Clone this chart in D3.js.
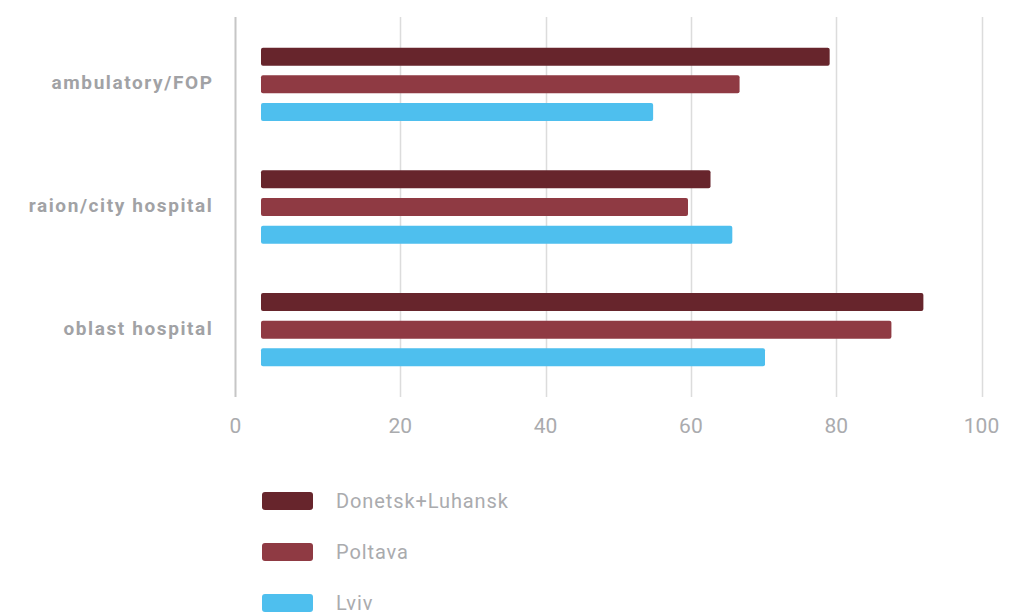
<!DOCTYPE html>
<html>
<head>
<meta charset="utf-8">
<script src="https://cdn.jsdelivr.net/npm/d3@7/dist/d3.min.js"></script>
<style>
  html, body { margin: 0; padding: 0; background: #ffffff; }
  svg { display: block; }
</style>
</head>
<body>
<svg id="chart" width="1014" height="615"></svg>
<script>
// Share of respondents by facility level and region (%)
const categories = ["ambulatory/FOP", "raion/city hospital", "oblast hospital"];
const seriesNames = ["Donetsk+Luhansk", "Poltava", "Lviv"];
const donetskLuhansk = [79.1, 62.7, 92.0];
const poltava = [66.7, 59.6, 87.6];
const lviv = [54.8, 65.7, 70.2];
const tickValues = [0, 20, 40, 60, 80, 100];
const colors = ["#67252c", "#8f3a43", "#4ebfee"];

const seriesValues = [donetskLuhansk, poltava, lviv];
const rows = categories.map((c, i) => ({
  category: c,
  values: seriesNames.map((s, j) => ({ series: s, value: seriesValues[j][i] }))
}));

const svg = d3.select("#chart");
const textGray = "#a1a2a5";

const x = d3.scaleLinear().domain([0, 100]).range([255, 981.5]);
const y = d3.scaleBand().domain(categories).range([23, 391]).paddingInner(0).paddingOuter(0);
const inner = d3.scaleBand().domain(seriesNames).range([-36.7, 36.7]).paddingInner(0.35);

const gridTop = 17, gridBottom = 397;
const axisLineX = 235.5;   // left axis rule, carries the 0 label
const barInset = 6;        // bars start just right of the scale origin

// vertical gridlines
svg.append("g")
  .selectAll("line")
  .data(tickValues.filter(d => d > 0))
  .join("line")
  .attr("x1", d => Math.round(x(d)) + 0.5)
  .attr("x2", d => Math.round(x(d)) + 0.5)
  .attr("y1", gridTop).attr("y2", gridBottom)
  .attr("stroke", "#dcdcdc").attr("stroke-width", 1.5);

svg.append("line")
  .attr("x1", axisLineX).attr("x2", axisLineX)
  .attr("y1", gridTop).attr("y2", gridBottom)
  .attr("stroke", "#c6c6c6").attr("stroke-width", 2);

// tick labels
svg.append("g")
  .selectAll("text")
  .data(tickValues)
  .join("text")
  .attr("x", d => d === 0 ? axisLineX : x(d))
  .attr("y", 432.5)
  .attr("text-anchor", "middle")
  .attr("font-family", "Roboto, sans-serif")
  .attr("font-size", 21)
  .attr("fill", "#aaabae")
  .text(d => d);

// category labels
svg.append("g")
  .selectAll("text")
  .data(categories)
  .join("text")
  .attr("x", 213.5)
  .attr("y", d => y(d) + y.bandwidth() / 2 + 5)
  .attr("text-anchor", "end")
  .attr("font-family", "Roboto, sans-serif")
  .attr("font-weight", "bold")
  .attr("font-size", 19)
  .attr("letter-spacing", 1.6)
  .attr("fill", textGray)
  .text(d => d);

// bars
const groups = svg.append("g")
  .selectAll("g")
  .data(rows)
  .join("g")
  .attr("transform", d => `translate(0,${y(d.category) + y.bandwidth() / 2})`);

groups.selectAll("rect")
  .data(d => d.values)
  .join("rect")
  .attr("x", x(0) + barInset)
  .attr("y", d => inner(d.series))
  .attr("width", d => x(d.value) - x(0) - barInset)
  .attr("height", inner.bandwidth())
  .attr("rx", 2)
  .attr("fill", d => colors[seriesNames.indexOf(d.series)]);

// legend
const legend = svg.append("g")
  .selectAll("g")
  .data(seriesNames)
  .join("g")
  .attr("transform", (d, i) => `translate(262,${501 + i * 51})`);

legend.append("rect")
  .attr("x", 0).attr("y", -9)
  .attr("width", 51).attr("height", 18)
  .attr("rx", 3)
  .attr("fill", (d, i) => colors[i]);

legend.append("text")
  .attr("x", 74).attr("y", 6.5)
  .attr("font-family", "Roboto, sans-serif")
  .attr("font-size", 20)
  .attr("letter-spacing", 0.9)
  .attr("fill", "#aaabae")
  .text(d => d);
</script>
</body>
</html>
